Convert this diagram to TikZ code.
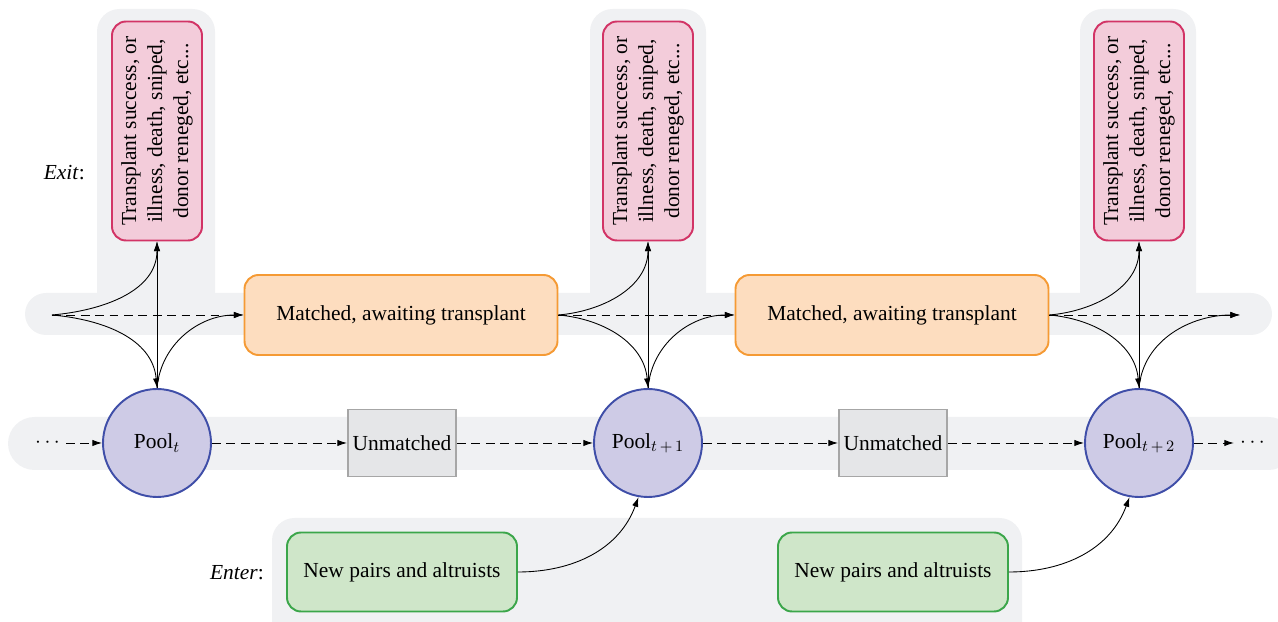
\documentclass[tikz,border=0pt]{standalone}
\usepackage{fontspec}
\setmainfont{Liberation Serif}
\usepackage{tikz}
\usetikzlibrary{arrows.meta}
\definecolor{bandgray}{HTML}{F0F1F3}
\definecolor{exitfill}{HTML}{F3CCDA}
\definecolor{exitline}{HTML}{D23466}
\definecolor{matchfill}{HTML}{FDDDBF}
\definecolor{matchline}{HTML}{F59A34}
\definecolor{poolfill}{HTML}{CECBE6}
\definecolor{poolline}{HTML}{3F4EA8}
\definecolor{unfill}{HTML}{E5E6E8}
\definecolor{unline}{HTML}{A6A6A6}
\definecolor{enterfill}{HTML}{CFE6C9}
\definecolor{enterline}{HTML}{3BA64A}

\newcommand{\exittext}{\rotatebox{90}{\begin{tabular}{@{}c@{}}Transplant success, or\\illness, death, sniped,\\donor reneged, etc...\end{tabular}}}

\begin{document}
\begin{tikzpicture}
         \tikzset{every node/.style={font=\fontsize{12.2}{14.8}\selectfont}}
         \tikzset{band/.style={fill=bandgray,draw=none}}
         \tikzset{exitbox/.style={draw=exitline,fill=exitfill,line width=1.1pt,rounded corners=8pt,minimum width=1.8cm,minimum height=4.38cm,inner sep=0pt}}
         \tikzset{matchbox/.style={draw=matchline,fill=matchfill,line width=1.1pt,rounded corners=8pt,minimum width=6.26cm,minimum height=1.6cm}}
         \tikzset{poolnode/.style={circle,draw=poolline,fill=poolfill,line width=1.1pt,minimum size=2.16cm,inner sep=0pt}}
         \tikzset{unmatchbox/.style={draw=unline,fill=unfill,line width=1.1pt,minimum width=2.16cm,minimum height=1.34cm,inner sep=0pt}}
         \tikzset{enterbox/.style={draw=enterline,fill=enterfill,line width=1.1pt,rounded corners=8pt,minimum width=4.6cm,minimum height=1.58cm}}
         \tikzset{flow/.style={line width=0.5pt,-{Latex[length=5.5pt,width=3.6pt]}}}
         \tikzset{wait/.style={flow,dash pattern=on 5pt off 3.2pt}}
         \useasboundingbox (0,0) rectangle (25.56,12.44);
         % grey bands
         \fill[band,rounded corners=0.45cm] (1.94,5.9) rectangle (4.3,12.26);
         \fill[band,rounded corners=0.45cm] (11.8,5.9) rectangle (14.12,12.26);
         \fill[band,rounded corners=0.45cm] (21.6,5.9) rectangle (23.92,12.26);
         \fill[band,rounded corners=0.42cm] (0.5,5.74) rectangle (25.44,6.58);
         \fill[band,rounded corners=0.53cm] (0.16,3.04) rectangle (25.9,4.1);
         \fill[band,rounded corners=0.45cm] (5.44,-0.5) rectangle (20.44,2.08);
         % nodes
         \node[exitbox] (exit1) at (3.14,9.82) {\exittext};
         \node[exitbox] (exit2) at (12.96,9.82) {\exittext};
         \node[exitbox] (exit3) at (22.78,9.82) {\exittext};
         \node[anchor=east] (exitlabel) at (1.82,8.98) {\textit{Exit}:};
         \node[matchbox] (match1) at (8.02,6.14) {Matched, awaiting transplant};
         \node[matchbox] (match2) at (17.84,6.14) {Matched, awaiting transplant};
         \coordinate (start) at (1.04,6.14);
         \coordinate (finish) at (24.8,6.14);
         \node[poolnode] (pool1) at (3.14,3.58) {Pool$_t$};
         \node[poolnode] (pool2) at (12.96,3.58) {Pool$_{t\,+\,1}$};
         \node[poolnode] (pool3) at (22.78,3.58) {Pool$_{t\,+\,2}$};
         \node[unmatchbox] (unmatch1) at (8.04,3.58) {Unmatched};
         \node[unmatchbox] (unmatch2) at (17.86,3.58) {Unmatched};
         \node (dotsl) at (0.95,3.58) {$\cdots$};
         \node (dotsr) at (25.05,3.58) {$\cdots$};
         \node[enterbox] (new1) at (8.04,1.0) {New pairs and altruists};
         \node[enterbox] (new2) at (17.86,1.0) {New pairs and altruists};
         \node[anchor=east] (enterlabel) at (5.4,0.98) {\textit{Enter}:};
         % first step
         \draw[flow] (start) to[out=5,in=-90] (exit1.south);
         \draw[flow] (start) to[out=-5,in=95] (pool1.north);
         \draw[wait] (start) -- (match1.west);
         \draw[flow] (pool1.north) -- (exit1.south);
         \draw[flow] (pool1.north) to[out=85,in=180] (match1.west);
         % second step
         \draw[flow] (match1.east) to[out=5,in=-90] (exit2.south);
         \draw[flow] (match1.east) to[out=-5,in=95] (pool2.north);
         \draw[wait] (match1.east) -- (match2.west);
         \draw[flow] (pool2.north) -- (exit2.south);
         \draw[flow] (pool2.north) to[out=85,in=180] (match2.west);
         % third step
         \draw[flow] (match2.east) to[out=5,in=-90] (exit3.south);
         \draw[flow] (match2.east) to[out=-5,in=95] (pool3.north);
         \draw[wait] (match2.east) -- (finish);
         \draw[flow] (pool3.north) -- (exit3.south);
         \draw[flow] (pool3.north) to[out=85,in=180] (finish);
         % pool chain
         \draw[wait] (dotsl) -- (pool1);
         \draw[wait] (pool1) -- (unmatch1);
         \draw[wait] (unmatch1) -- (pool2);
         \draw[wait] (pool2) -- (unmatch2);
         \draw[wait] (unmatch2) -- (pool3);
         \draw[wait] (pool3) -- (dotsr);
         % arrivals
         \draw[flow] (new1.east) to[out=0,in=-110] (pool2.-100);
         \draw[flow] (new2.east) to[out=0,in=-110] (pool3.-100);
      \end{tikzpicture}
\end{document}
